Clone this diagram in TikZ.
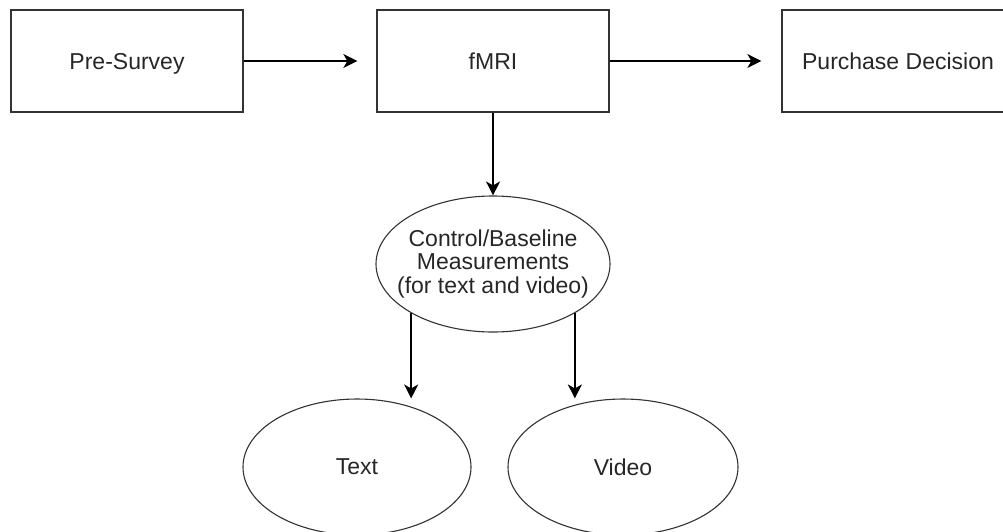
\documentclass[tikz,border=0pt]{standalone}
\usepackage{fontspec}
\setmainfont{Liberation Sans}
\usetikzlibrary{shapes.geometric,arrows.meta}
\begin{document}
\begin{tikzpicture}[x=1pt,y=-1pt,
  every node/.style={font=\fontsize{23}{23.3}\selectfont, text=black!85},
  box/.style={draw=black!80, line width=1.3pt, rectangle, minimum width=232pt, minimum height=102pt, inner sep=0pt, text height=16.5pt, text depth=0pt},
  oval/.style={draw=black!80, line width=1.1pt, ellipse, minimum height=136pt, inner sep=0pt, align=center},
  arr/.style={draw=black, line width=1.3pt, -{Stealth[length=14pt,width=14pt,inset=4pt]}}]
\useasboundingbox (0,0) rectangle (1003,531);
\node[box] (pre) at (127,61) {Pre-Survey};
\node[box] (fmri) at (493,61) {fMRI};
\node[box] (pd) at (898,61) {Purchase Decision};
\node[oval, minimum width=234pt, inner xsep=-14pt] (ctrl) at (493,264) {Control/Baseline\\Measurements\\(for text and video)};
\node[oval, minimum width=228pt] (txt) at (357,467) {Text};
\node[oval, minimum width=230pt] (vid) at (623,467) {Video};
\draw[arr, shorten >=19pt] (pre.east) -- (fmri.west);
\draw[arr, shorten >=20pt] (fmri.east) -- (pd.west);
\draw[arr] (fmri.south) -- (ctrl.north);
\draw[arr] (ctrl.211.2) -- (ctrl.211.2 |- txt.north);
\draw[arr] (ctrl.329.4) -- (ctrl.329.4 |- vid.north);
\end{tikzpicture}
\end{document}
